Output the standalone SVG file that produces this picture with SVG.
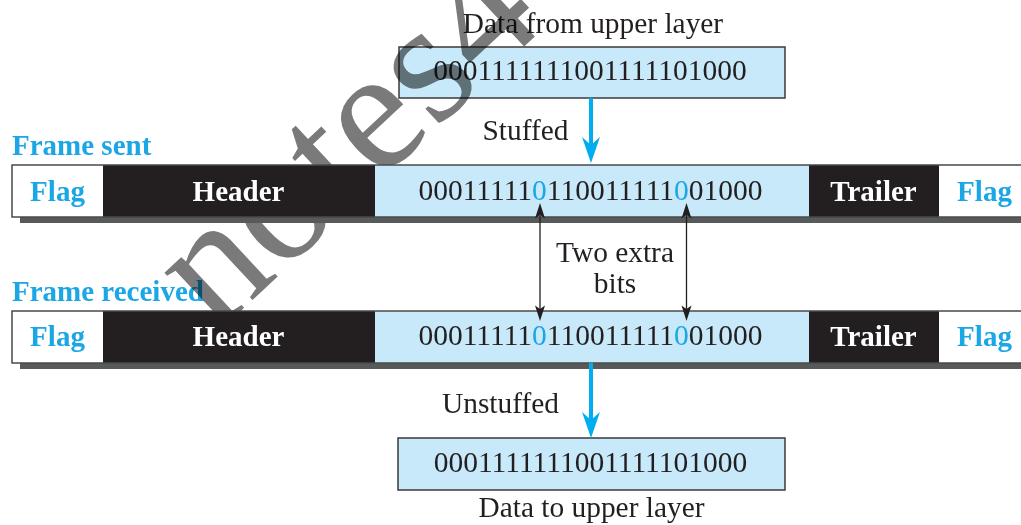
<svg xmlns="http://www.w3.org/2000/svg" width="1021" height="525" viewBox="0 0 1021 525">
  <style>
    text { font-family: "Liberation Serif", "Times New Roman", serif; }
    .lbl { font-size: 29.4px; fill: #231f20; text-anchor: middle; }
    .bits { font-size: 29.5px; fill: #231f20; text-anchor: middle; }
    .hi { fill: #1ba6e5; }
    .flag { font-size: 29px; font-weight: bold; fill: #1ba6e5; text-anchor: middle; }
    .dark { font-size: 29px; font-weight: bold; fill: #ffffff; text-anchor: middle; }
    .title { font-size: 29px; font-weight: bold; fill: #1ba6e5; }
    .box { fill: #c7e9f9; stroke: #3a3a3a; stroke-width: 1.5; }
    .white { fill: #ffffff; }
    .black { fill: #231f20; }
    .blue { fill: #c7e9f9; }
    .shadow { fill: #58595b; }
    .outline { fill: none; stroke: #4a4a4a; stroke-width: 1.5; }
    .barrow { stroke: #00aeef; stroke-width: 4; fill: none; }
    .karrow { stroke: #231f20; stroke-width: 1.3; fill: none; }
    .wm { font-size: 174px; fill: #7a7a7a; mix-blend-mode: multiply; }
  </style>
  <defs>
    <marker id="bhead" markerUnits="userSpaceOnUse" viewBox="-9 -10 28 20" refX="0" refY="0" markerWidth="28" markerHeight="20" orient="auto">
      <path d="M18,0 L-8,-9 L0,0 L-8,9 Z" fill="#00aeef"/>
    </marker>
    <marker id="khead" markerUnits="userSpaceOnUse" viewBox="-5 -6 18 12" refX="0" refY="0" markerWidth="18" markerHeight="12" orient="auto-start-reverse">
      <path d="M12,0 L-3.5,-5 L0,0 L-3.5,5 Z" fill="#231f20"/>
    </marker>
  </defs>

  <g id="data-top">
    <text class="lbl" x="593" y="33">Data from upper layer</text>
    <rect class="box" x="399" y="47" width="386" height="51"/>
    <text class="bits" x="590" y="80">0001111111001111101000</text>
  </g>

  <g id="data-bottom">
    <rect class="box" x="398" y="438" width="387" height="52"/>
    <text class="bits" x="590.5" y="472">0001111111001111101000</text>
    <text class="lbl" x="591.5" y="517">Data to upper layer</text>
  </g>

  <g id="title-sent">
    <text class="title" x="12" y="155">Frame sent</text>
  </g>
  <g id="title-received">
    <text class="title" x="12" y="301">Frame received</text>
  </g>

  <g id="watermark">
    <text class="wm" transform="translate(216,334) rotate(-43)">notes4</text>
  </g>

  <g id="frame-sent">
    <rect class="shadow" x="20" y="171" width="1010" height="52"/>
    <rect class="white" x="12" y="165" width="91" height="52"/>
    <rect class="black" x="103" y="165" width="272" height="52"/>
    <rect class="blue" x="375" y="165" width="434" height="52"/>
    <rect class="black" x="809" y="165" width="130" height="52"/>
    <rect class="white" x="939" y="165" width="90" height="52"/>
    <rect class="outline" x="12" y="165" width="1017" height="52"/>
    <text class="flag" x="57.5" y="201">Flag</text>
    <text class="dark" x="238.5" y="201">Header</text>
    <text class="bits" x="590.5" y="200">00011111<tspan class="hi">0</tspan>110011111<tspan class="hi">0</tspan>01000</text>
    <text class="dark" x="873.5" y="201">Trailer</text>
    <text class="flag" x="984.5" y="201">Flag</text>
  </g>

  <g id="frame-received">
    <rect class="shadow" x="20" y="317" width="1010" height="52"/>
    <rect class="white" x="12" y="311" width="91" height="52"/>
    <rect class="black" x="103" y="311" width="272" height="52"/>
    <rect class="blue" x="375" y="311" width="434" height="52"/>
    <rect class="black" x="809" y="311" width="130" height="52"/>
    <rect class="white" x="939" y="311" width="90" height="52"/>
    <rect class="outline" x="12" y="311" width="1017" height="52"/>
    <text class="flag" x="57.5" y="346">Flag</text>
    <text class="dark" x="238.5" y="346">Header</text>
    <text class="bits" x="590.5" y="345">00011111<tspan class="hi">0</tspan>110011111<tspan class="hi">0</tspan>01000</text>
    <text class="dark" x="873.5" y="346">Trailer</text>
    <text class="flag" x="984.5" y="346">Flag</text>
  </g>

  <g id="connectors">
    <line class="barrow" x1="591" y1="98" x2="591" y2="145" marker-end="url(#bhead)"/>
    <text class="lbl" x="525.5" y="140">Stuffed</text>
    <line class="karrow" x1="540" y1="215" x2="540" y2="309" marker-start="url(#khead)" marker-end="url(#khead)"/>
    <line class="karrow" x1="686.5" y1="215" x2="686.5" y2="309" marker-start="url(#khead)" marker-end="url(#khead)"/>
    <text class="lbl" x="615" y="262">Two extra</text>
    <text class="lbl" x="615" y="293">bits</text>
    <line class="barrow" x1="591" y1="363" x2="591" y2="420" marker-end="url(#bhead)"/>
    <text class="lbl" x="500.5" y="413">Unstuffed</text>
  </g>
</svg>
